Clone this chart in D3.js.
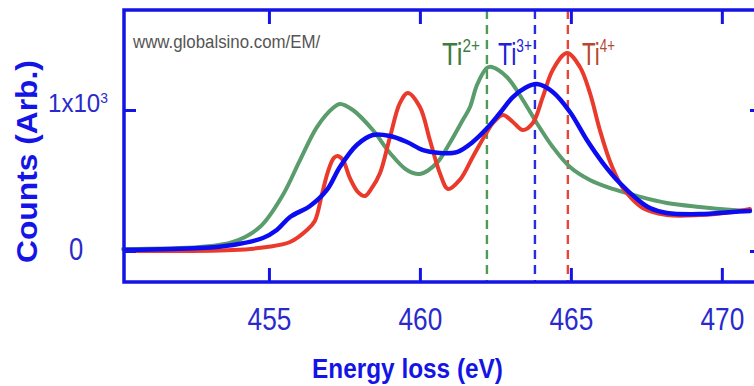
<!DOCTYPE html>
<html><head><meta charset="utf-8">
<script src="https://cdn.jsdelivr.net/npm/d3@7"></script>
<style>body{margin:0;background:#fff;overflow:hidden}</style>
</head><body>
<svg id="chart" width="754" height="386"></svg>
<script>
// ---- data (energy loss in eV, counts arb.) ----
const xTickValues = [455, 460, 465, 470];
const yTickValues = [0, 1000];
const yTickLabels = [["0", ""], ["1x10", "3"]];

const ti2Series = [
  [450.17,14],[452.72,28],[453.81,64],[454.70,170],[455.46,397],[456.03,645],[456.59,879],
  [457.12,1014],[457.35,1043],[457.78,1000],[458.44,858],[459.01,695],[459.57,574],[460.00,546],
  [460.56,624],[460.99,766],[461.42,929],[461.66,1021],[461.89,1177],[462.22,1298],[462.38,1305],
  [462.88,1234],[463.41,1071],[463.87,908],[464.40,738],[464.97,596],[465.63,504],[466.39,440],
  [467.19,390],[468.18,340],[469.27,312],[470.36,291],[470.93,284]
];
const ti3Series = [
  [450.23,7],[452.72,21],[453.81,43],[454.80,92],[455.26,149],[455.70,241],[456.36,319],
  [456.92,433],[457.35,596],[457.91,752],[458.44,823],[459.01,816],[459.57,773],[460.10,716],
  [460.66,695],[461.23,702],[461.75,773],[462.22,870],[462.65,979],[463.08,1092],[463.48,1156],
  [463.87,1184],[464.40,1128],[464.97,986],[465.53,787],[466.06,624],[466.62,482],[467.19,369],
  [467.62,305],[468.18,270],[469.27,262],[470.36,277],[470.93,284]
];
const ti4Series = [
  [450.23,0],[453.81,7],[454.93,28],[455.70,64],[456.26,149],[456.52,213],[456.75,397],
  [456.95,560],[457.15,660],[457.28,674],[457.45,645],[457.68,518],[457.95,418],[458.18,390],
  [458.41,447],[458.68,553],[459.01,809],[459.34,1050],[459.60,1121],[460.00,1021],[460.33,787],
  [460.66,553],[460.93,440],[461.32,504],[461.75,667],[462.22,844],[462.42,908],[462.75,965],
  [463.08,915],[463.41,858],[463.74,908],[464.07,1092],[464.40,1284],[464.87,1404],[465.30,1305],
  [465.63,1121],[465.96,858],[466.29,638],[466.62,482],[466.85,411],[467.38,305],[468.18,255],
  [469.27,255],[470.36,277],[470.93,298]
];
const peakEnergies = [462.22, 463.81, 464.90];
const peakNames = ["Ti", "Ti", "Ti"];
const peakCharges = ["2+", "3+", "4+"];

// ---- drawing ----
const svg = d3.select("#chart");
const AX = "#1414e6";
const x = d3.scaleLinear().domain([450.2, 471.33]).range([124, 762]);
const y = d3.scaleLinear().domain([0, 1000]).range([251, 110]);
const plotTop = 10, plotBottom = 282, plotLeft = 124, plotRight = 762;

function fit(sel, w) {
  sel.each(function () {
    const bb = this.getBBox();
    const k = w / bb.width;
    const t = d3.select(this);
    const base = t.attr("data-t") || "";
    t.attr("transform", base + ` scale(${k},1)`);
  });
}

// watermark
const wm = svg.append("text").attr("data-t", "translate(133,48)")
  .attr("font-family", "Liberation Sans, Arial, sans-serif").attr("font-size", 18.5)
  .attr("fill", "#555").text("www.globalsino.com/EM/");
fit(wm, 189);

// dashed peak lines
const dashColors = ["#4f9a55", "#2b2be0", "#e8453a"];
svg.selectAll("line.peak").data(peakEnergies).join("line").attr("class", "peak")
  .attr("x1", d => x(d)).attr("x2", d => x(d)).attr("y1", plotTop).attr("y2", plotBottom)
  .attr("stroke", (d, i) => dashColors[i]).attr("stroke-width", 2.4)
  .attr("stroke-dasharray", "9,6");

// curves
const line = d3.line().x(d => x(d[0])).y(d => y(d[1])).curve(d3.curveCatmullRom.alpha(0.5));
const series = [
  {data: ti2Series, color: "#5a9c6c", w: 4},
  {data: ti4Series, color: "#ea3a2c", w: 4},
  {data: ti3Series, color: "#0c0cf0", w: 4.5}
];
svg.selectAll("path.curve").data(series).join("path").attr("class", "curve")
  .attr("d", d => line(d.data)).attr("fill", "none")
  .attr("stroke", d => d.color).attr("stroke-width", d => d.w)
  .attr("stroke-linejoin", "round").attr("stroke-linecap", "round");

// frame
svg.append("path").attr("d", `M${plotRight},${plotTop}H${plotLeft}V${plotBottom}H${plotRight}`)
  .attr("fill", "none").attr("stroke", AX).attr("stroke-width", 3.5);

// ticks (inward) via d3 axes
const gB = svg.append("g").attr("transform", `translate(0,${plotBottom})`)
  .call(d3.axisTop(x).tickValues(xTickValues).tickSize(14).tickFormat(""));
const gT = svg.append("g").attr("transform", `translate(0,${plotTop})`)
  .call(d3.axisBottom(x).tickValues(xTickValues).tickSize(14).tickFormat(""));
const gL = svg.append("g").attr("transform", `translate(${plotLeft},0)`)
  .call(d3.axisRight(y).tickValues(yTickValues).tickSize(12).tickFormat(""));
const gR = svg.append("g").attr("transform", `translate(${plotRight},0)`)
  .call(d3.axisLeft(y).tickValues(yTickValues).tickSize(12).tickFormat(""));
[gB, gT, gL, gR].forEach(g => {
  g.select(".domain").remove();
  g.selectAll(".tick line").attr("stroke", AX).attr("stroke-width", 3);
});

// x tick labels
const xl = svg.append("g").attr("transform", `translate(0,${plotBottom})`)
  .call(d3.axisBottom(x).tickValues(xTickValues).tickSize(0).tickFormat(d3.format("d")));
xl.select(".domain").remove();
xl.selectAll(".tick text").attr("y", 48).attr("dy", 0)
  .attr("font-family", "Liberation Sans, Arial, sans-serif").attr("font-size", 32)
  .attr("fill", "#2a2acc").attr("transform", "scale(0.82,1)");

// y tick labels
const ylab = svg.selectAll("text.ylab").data(yTickValues).join("text").attr("class", "ylab")
  .attr("font-family", "Liberation Sans, Arial, sans-serif").attr("font-size", (d, i) => i === 0 ? 32 : 26)
  .attr("fill", "#2a2acc");
ylab.each(function (d, i) {
  const t = d3.select(this);
  t.append("tspan").text(yTickLabels[i][0]);
  if (yTickLabels[i][1]) t.append("tspan").attr("font-size", 15).attr("dy", -9).text(yTickLabels[i][1]);
});
ylab.each(function (d, i) {
  const t = d3.select(this);
  if (i === 0) {
    t.attr("text-anchor", "middle").attr("transform", `translate(76,${y(d) + 9}) scale(0.8,1)`);
  } else {
    t.attr("text-anchor", "start").attr("data-t", `translate(48,${y(d) + 2})`);
    fit(t, 60);
  }
});

// peak labels
const labColors = ["#3d7d3d", "#2020d8", "#b5482e"];
const labX = [442, 498, 582];
const labW = [38, 34, 33];
peakEnergies.forEach((e, i) => {
  const t = svg.append("text").attr("data-t", `translate(${labX[i]},65)`)
    .attr("font-family", "Liberation Sans, Arial, sans-serif").attr("font-size", 32)
    .attr("fill", labColors[i]);
  t.append("tspan").text(peakNames[i]);
  t.append("tspan").attr("font-size", 19).attr("dy", -13).text(peakCharges[i]);
  fit(t, labW[i]);
});

// axis titles
const xt = svg.append("text").attr("data-t", "translate(312,378)")
  .attr("font-family", "Liberation Sans, Arial, sans-serif").attr("font-weight", "bold")
  .attr("font-size", 27).attr("fill", AX).text("Energy loss (eV)");
fit(xt, 191);
const yt = svg.append("text").attr("data-t", "translate(37,263) rotate(-90)")
  .attr("font-family", "Liberation Sans, Arial, sans-serif").attr("font-weight", "bold")
  .attr("font-size", 30).attr("fill", AX).text("Counts (Arb.)");
fit(yt, 203);
</script>
</body></html>
